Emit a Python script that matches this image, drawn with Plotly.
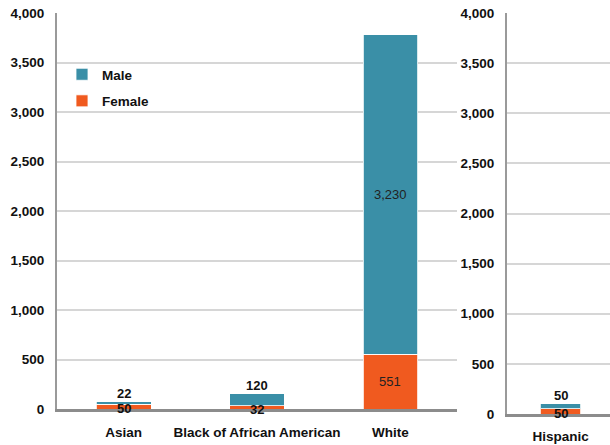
import plotly.graph_objects as go

# Left panel: race categories
races = ['Asian', 'Black of African American', 'White']
race_female = [50, 32, 551]
race_male = [22, 120, 3230]

# Right panel: ethnicity
ethnic = ['Hispanic']
ethnic_female = [50]
ethnic_male = [50]

y_ticks = [0, 500, 1000, 1500, 2000, 2500, 3000, 3500, 4000]

TEAL = '#3A8FA7'
ORANGE = '#F05A1F'
FONT = 'Liberation Sans'
W, H = 610, 445


def px_x(p):
    # screen pixel -> paper fraction
    return p / W


def px_y(p):
    return 1 - p / H


fig = go.Figure()

bar_line = dict(color='rgba(255,255,255,0.8)', width=1)

fig.add_trace(go.Bar(x=races, y=race_female, name='Female', marker=dict(color=ORANGE, line=bar_line),
                     legendgroup='f', legendrank=2, width=0.41))
fig.add_trace(go.Bar(x=races, y=race_male, name='Male', marker=dict(color=TEAL, line=bar_line),
                     legendgroup='m', legendrank=1, width=0.41))
fig.add_trace(go.Bar(x=ethnic, y=ethnic_female, name='Female', marker=dict(color=ORANGE, line=bar_line),
                     xaxis='x2', yaxis='y2', showlegend=False, width=0.39))
fig.add_trace(go.Bar(x=ethnic, y=ethnic_male, name='Male', marker=dict(color=TEAL, line=bar_line),
                     xaxis='x2', yaxis='y2', showlegend=False, width=0.39))

# value labels
annotations = []


def add_labels(cats, fem, mal, xref, yref):
    for c, f, m in zip(cats, fem, mal):
        if m > 1000:
            annotations.append(dict(x=c, y=f + m / 2, text=f'{m:,}', xref=xref, yref=yref, showarrow=False,
                                    font=dict(family=FONT, size=13, color='#222')))
            annotations.append(dict(x=c, y=f / 2, text=f'{f:,}', xref=xref, yref=yref, showarrow=False,
                                    font=dict(family=FONT, size=13, color='#222')))
        else:
            annotations.append(dict(x=c, y=f + m, text=f'{m:,}', xref=xref, yref=yref, showarrow=False,
                                    yanchor='bottom', yshift=-1,
                                    font=dict(family=FONT, size=13, color='#111', weight='bold')))
            annotations.append(dict(x=c, y=f / 2, text=f'{f:,}', xref=xref, yref=yref, showarrow=False,
                                    yshift=-2,
                                    font=dict(family=FONT, size=13, color='#111', weight='bold')))


add_labels(races, race_female, race_male, 'x', 'y')
add_labels(ethnic, ethnic_female, ethnic_male, 'x2', 'y2')

tick_font = dict(family=FONT, size=13.5, color='#111', weight='bold')

yaxis_common = dict(
    range=[0, 4000],
    tickvals=y_ticks,
    tickformat=',d',
    showgrid=True,
    gridcolor='#D6D6D6',
    gridwidth=1.5,
    zeroline=False,
    showline=True,
    linecolor='#9A9A9A',
    linewidth=2,
    ticks='outside',
    ticklen=8,
    tickcolor='rgba(0,0,0,0)',
    tickfont=tick_font,
    ticklabeloverflow='allow',
    automargin=False,
    fixedrange=True,
)

xaxis_common = dict(
    showgrid=False,
    showline=True,
    linecolor='#8C8C8C',
    linewidth=2.5,
    ticks='outside',
    tickcolor='rgba(0,0,0,0)',
    tickfont=tick_font,
    ticklabeloverflow='allow',
    automargin=False,
    fixedrange=True,
)

fig.update_layout(
    width=W,
    height=H,
    barmode='stack',
    margin=dict(l=0, r=0, t=0, b=0),
    paper_bgcolor='white',
    plot_bgcolor='white',
    xaxis=dict(domain=[px_x(57), px_x(457)], range=[-0.5, 2.5], ticklen=9, **xaxis_common),
    yaxis=dict(domain=[px_y(409), px_y(13)], anchor='x', **yaxis_common),
    xaxis2=dict(domain=[px_x(507), 1.0], range=[-0.52, 0.48], ticklen=8, anchor='y2', **xaxis_common),
    yaxis2=dict(domain=[px_y(414), px_y(13)], anchor='x2', **yaxis_common),
    legend=dict(
        x=px_x(62),
        y=px_y(59),
        xanchor='left',
        yanchor='top',
        bgcolor='rgba(0,0,0,0)',
        font=dict(family=FONT, size=13.5, color='#111', weight='bold'),
        tracegroupgap=6,
        itemwidth=30,
    ),
    annotations=annotations,
    showlegend=True,
)

# drop the default body margin so the figure sits at the window's corner
fig.write_html("out.html", config={'displayModeBar': False},
               post_script="document.body.style.margin = '0';")
